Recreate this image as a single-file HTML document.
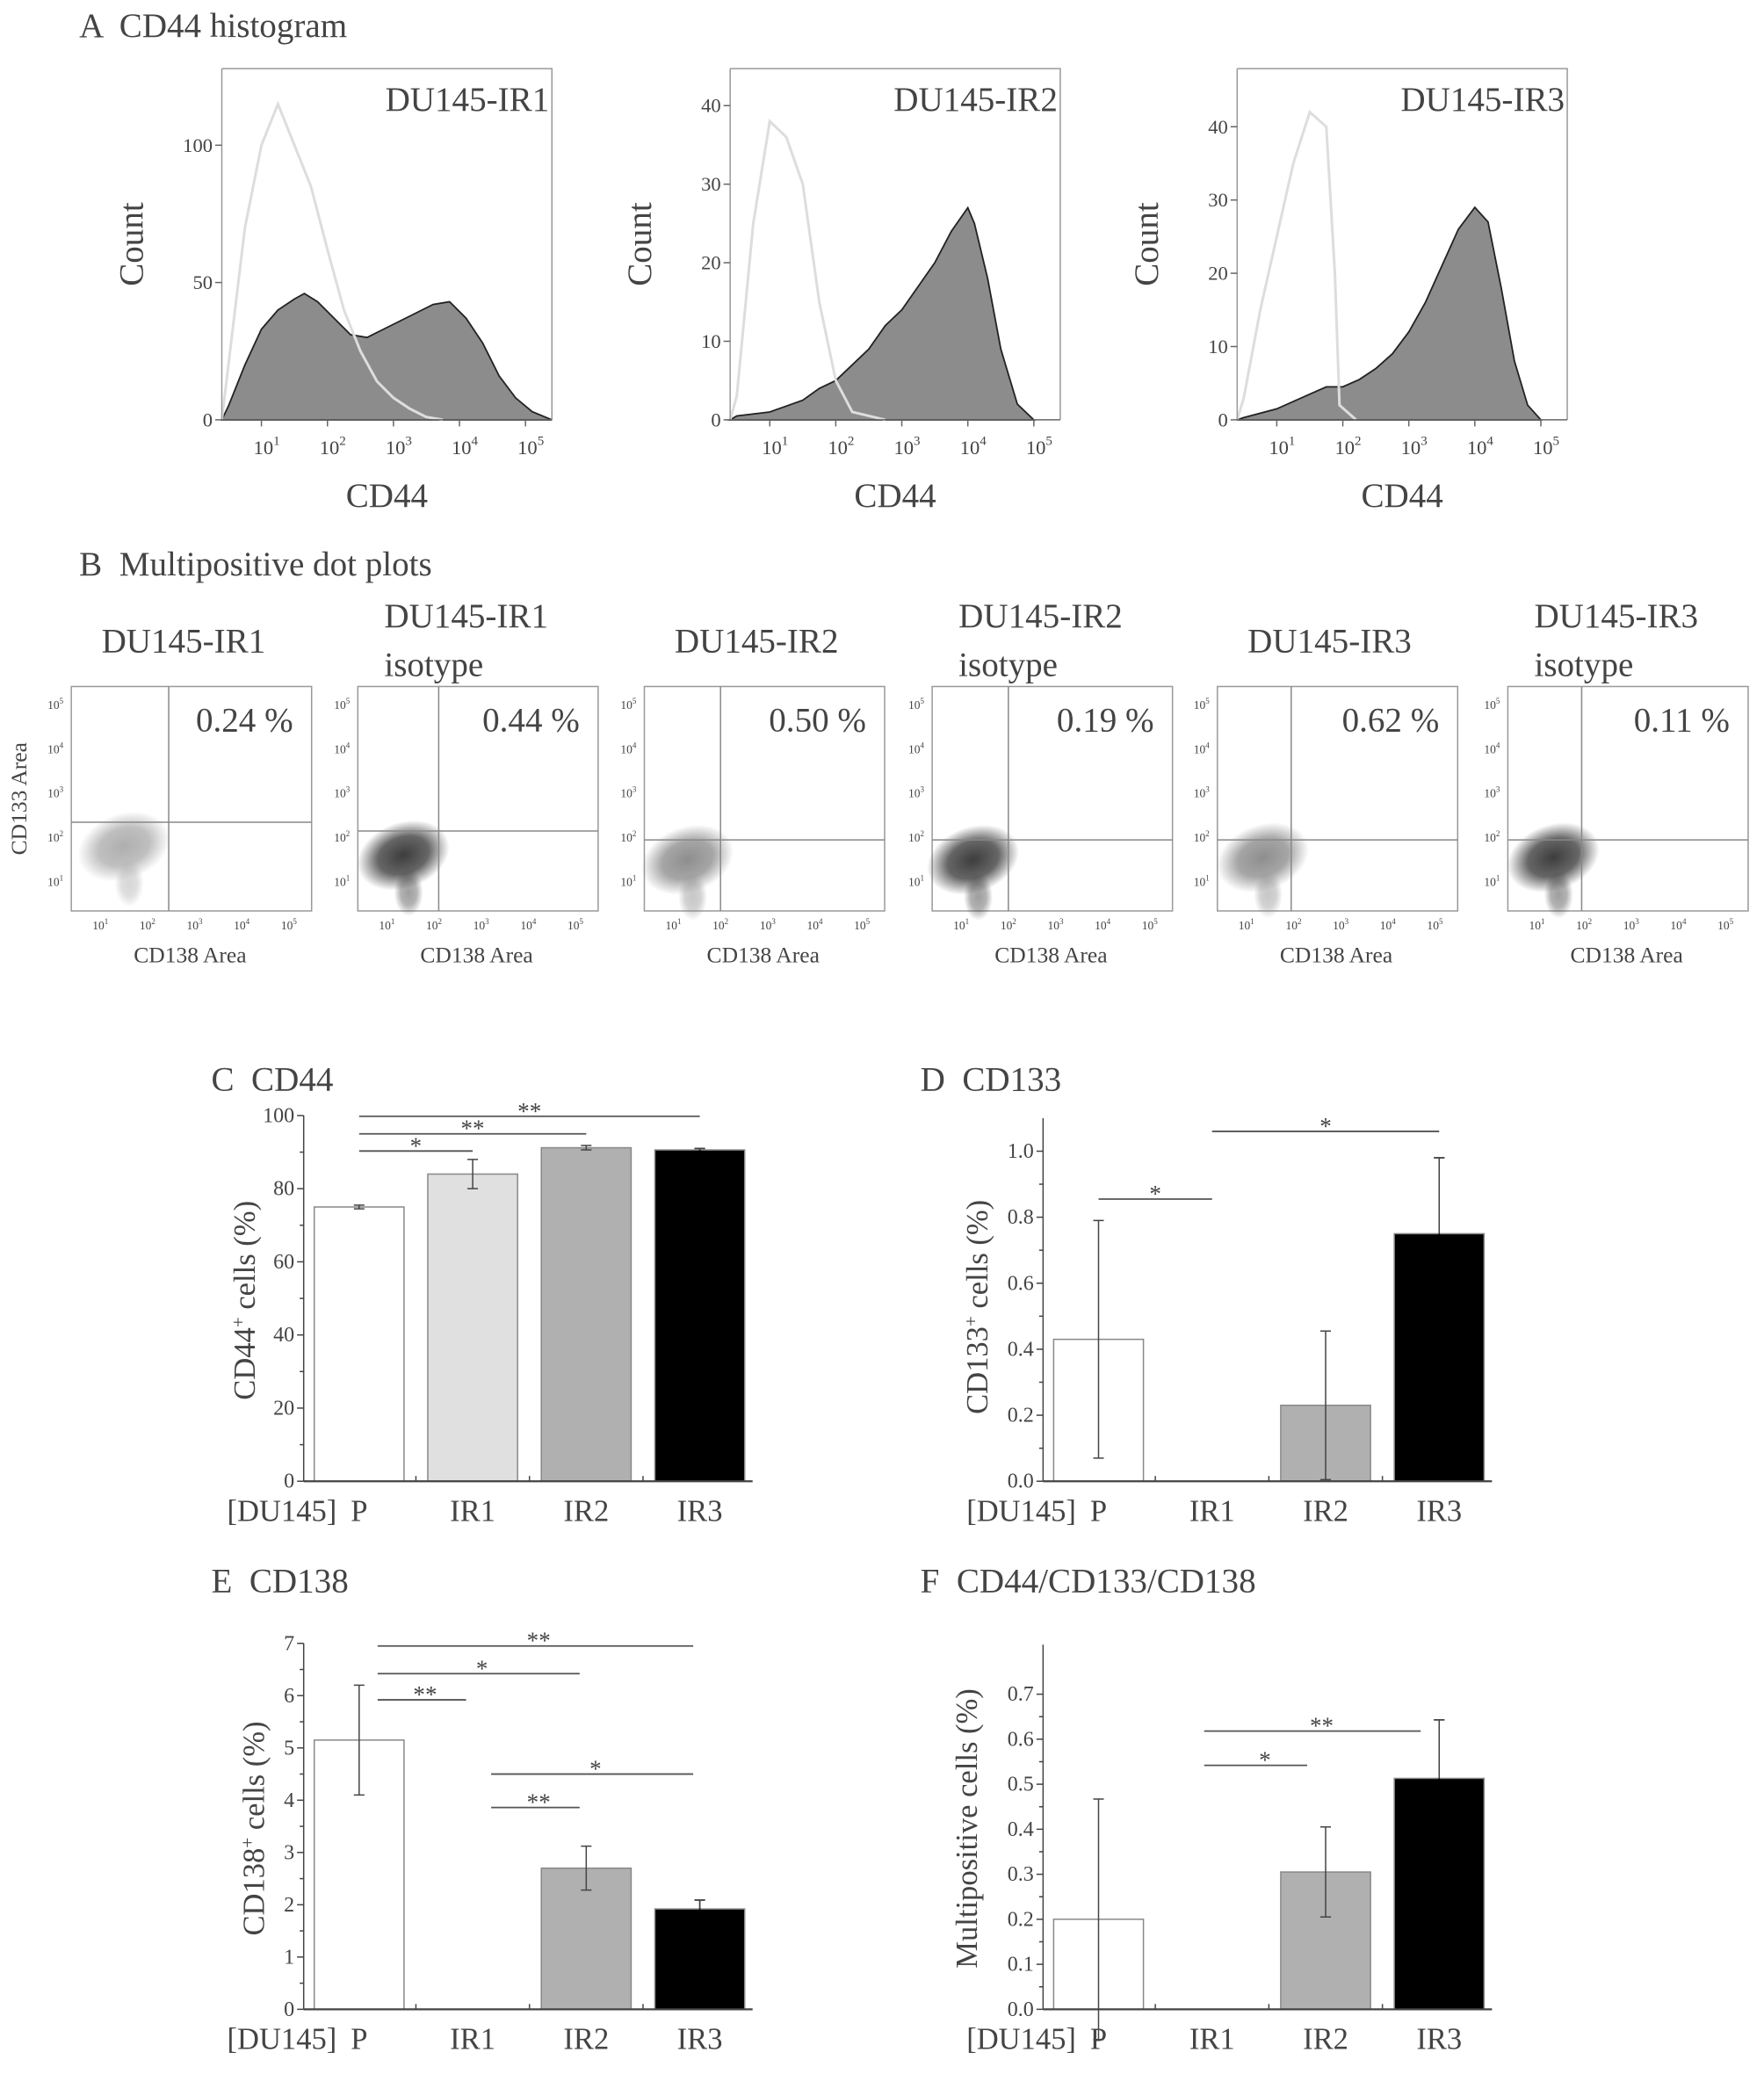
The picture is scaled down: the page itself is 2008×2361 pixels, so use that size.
<!DOCTYPE html>
<html><head><meta charset="utf-8"><style>
html,body{margin:0;padding:0;background:#fff}
svg{display:block}
text{font-family:"Liberation Serif",serif;fill:#444;white-space:pre}
</style></head><body>
<svg id="fig" width="2008" height="2361" viewBox="0 0 1336 1571" preserveAspectRatio="none" xmlns="http://www.w3.org/2000/svg" font-family="Liberation Serif, serif" xml:space="preserve">
<text x="60" y="28" font-size="26">A  CD44 histogram</text>
<text x="60" y="436" font-size="26">B  Multipositive dot plots</text>
<text x="160" y="826" font-size="26">C  CD44</text>
<text x="697" y="826" font-size="26">D  CD133</text>
<text x="160" y="1206" font-size="26">E  CD138</text>
<text x="697" y="1206" font-size="26">F  CD44/CD133/CD138</text>
<g id="root"></g>
</svg>
<script>
// ---------- Histogram data (log10 CD44 positions, counts) ----------
const histLogX1 = [0.4,0.5,0.75,1,1.25,1.5,1.65,1.85,2.1,2.35,2.6,2.85,3.1,3.35,3.6,3.85,4.1,4.35,4.6,4.85,5.1,5.4];
const histFill1 = [0,5,20,33,40,44,46,43,37,31,30,33,36,39,42,43,37,28,16,8,3,0];
const isoLogX1 = [0.4,0.5,0.75,1,1.25,1.5,1.75,2,2.25,2.5,2.75,3,3.25,3.5,3.75];
const isoVal1 = [0,20,70,100,115,100,85,62,40,25,14,8,4,1,0];
const histLogX2 = [0.4,0.5,1,1.5,1.75,2,2.25,2.5,2.75,3,3.25,3.5,3.75,4,4.1,4.3,4.5,4.75,5];
const histFill2 = [0,0.5,1,2.5,4,5,7,9,12,14,17,20,24,27,25,18,9,2,0];
const isoLogX2 = [0.4,0.5,0.75,1,1.25,1.5,1.75,2,2.25,2.5,2.75];
const isoVal2 = [0,3,25,38,36,30,15,5,1,0.5,0];
const histLogX3 = [0.4,0.5,1,1.5,1.75,2,2.25,2.5,2.75,3,3.25,3.5,3.75,4,4.2,4.4,4.6,4.8,5];
const histFill3 = [0,0.3,1.5,3.5,4.5,4.5,5.5,7,9,12,16,21,26,29,27,18,8,2,0];
const isoLogX3 = [0.4,0.5,0.75,1,1.25,1.5,1.75,1.88,1.95,2.2];
const isoVal3 = [0,3,15,25,35,42,40,20,2,0];
const histTitles = ["DU145-IR1","DU145-IR2","DU145-IR3"];
const histYTicks1 = [0,50,100];
const histYTicks2 = [0,10,20,30,40];
const histYTicks3 = [0,10,20,30,40];
const histXTicks = [1,2,3,4,5];

// ---------- Dot plot data ----------
const dotTitles = [["DU145-IR1"],["DU145-IR1","isotype"],["DU145-IR2"],["DU145-IR2","isotype"],["DU145-IR3"],["DU145-IR3","isotype"]];
const dotPercents = ["0.24 %","0.44 %","0.50 %","0.19 %","0.62 %","0.11 %"];
const gateLogX = [2.45,2.1,2.0,2.0,1.95,1.95];
const gateLogY = [2.35,2.15,1.95,1.95,1.95,1.95];
const cloudLogX = [1.5,1.35,1.3,1.25,1.35,1.35];
const cloudLogY = [1.8,1.6,1.5,1.5,1.55,1.55];
const cloudShade = ["#aaa","#333","#888","#333","#888","#333"];

// ---------- Bar chart data ----------
const barCats = ["P","IR1","IR2","IR3"];
const cd44Vals = [75,84,91.2,90.6];
const cd44Err = [0.5,4,0.6,0.4];
const cd44Ticks = [0,20,40,60,80,100];
const cd133Vals = [0.43,0,0.23,0.75];
const cd133Err = [0.36,0,0.225,0.23];
const cd133Ticks = [0,0.2,0.4,0.6,0.8,1.0];
const cd138Vals = [5.15,0,2.7,1.92];
const cd138Err = [1.05,0,0.42,0.17];
const cd138Ticks = [0,1,2,3,4,5,6,7];
const multiVals = [0.2,0,0.305,0.513];
const multiErr = [0.267,0,0.1,0.13];
const multiTicks = [0,0.1,0.2,0.3,0.4,0.5,0.6,0.7];
const sigC = [[0,1,90.3,"*"],[0,2,95,"**"],[0,3,99.8,"**"]];
const sigD = [[0,1,0.855,"*"],[1,3,1.06,"*"]];
const sigE = [[0,3,6.95,"**"],[0,2,6.42,"*"],[0,1,5.92,"**"],[1,3,4.5,"*"],[1,2,3.86,"**"]];
const sigF = [[1,3,0.618,"**"],[1,2,0.542,"*"]];

const NS="http://www.w3.org/2000/svg";
const root=document.getElementById('root');
function mk(tag,attrs,parent,txt){const e=document.createElementNS(NS,tag);for(const k in attrs)e.setAttribute(k,attrs[k]);if(tag==='text')e.setAttribute('font-family','Liberation Serif, serif');if(txt!==undefined)e.textContent=txt;(parent||root).appendChild(e);return e;}

// ---------- Histograms ----------
const histLefts=[168,553,937];
const histYScale=[208/100,59.5/10,55.5/10];
const hX=[histLogX1,histLogX2,histLogX3],hF=[histFill1,histFill2,histFill3],iX=[isoLogX1,isoLogX2,isoLogX3],iV=[isoVal1,isoVal2,isoVal3];
const hT=[histYTicks1,histYTicks2,histYTicks3];
for(let p=0;p<3;p++){
  const L=histLefts[p],B=318,T=52,R=L+250;
  const g=mk('g',{});
  
  
  const xs=v=>L+(v-0.4)*50, ys=v=>B-v*histYScale[p];
  let d='M'+xs(hX[p][0])+','+B;
  hX[p].forEach((v,i)=>{d+=' L'+xs(v)+','+ys(hF[p][i]);});
  d+=' L'+xs(hX[p][hX[p].length-1])+','+B+'Z';
  const f=mk('path',{d:d,fill:'#8c8c8c',stroke:'#222','stroke-width':1.2},g);
  
  
  let d2='';
  iX[p].forEach((v,i)=>{d2+=(i?' L':'M')+xs(v)+','+ys(iV[p][i]);});
  const iso=mk('path',{d:d2,fill:'none',stroke:'#ddd','stroke-width':2},g);
  
  
  const fr=mk('path',{d:`M${L},${T} H${R} V${B} M${L},${T} V${B}`,fill:'none',stroke:'#999','stroke-width':1},g);
  
  
  mk('line',{x1:L,y1:B,x2:R,y2:B,stroke:'#666','stroke-width':1},g);
  hT[p].forEach(t=>{mk('line',{x1:L-5,x2:L,y1:ys(t),y2:ys(t),stroke:'#666'},g);const tl=mk('text',{x:L-7,y:ys(t)+5,'font-size':15,'text-anchor':'end'},g,String(t));});
  histXTicks.forEach(t=>{const x=xs(t);mk('line',{x1:x,x2:x,y1:B,y2:B+5,stroke:'#666'},g);const tl=mk('text',{x:x-6,y:B+26,'font-size':15},g,'10');mk('tspan',{dy:-7,'font-size':10},tl,String(t));});
  const tt=mk('text',{x:R-2,y:84,'font-size':26,'text-anchor':'end'},g,histTitles[p]);
  
  
  const yl=mk('text',{x:0,y:0,'font-size':26,'text-anchor':'middle',transform:`translate(${L-60},185) rotate(-90)`},g,'Count');
  
  
  const xl=mk('text',{x:L+125,y:384,'font-size':26,'text-anchor':'middle'},g,'CD44');
  
  
}

// ---------- Dot plots ----------
const defs=mk('defs',{});
cloudShade.forEach((c,i)=>{const rg=mk('radialGradient',{id:'cg'+i},defs);mk('stop',{offset:'0%','stop-color':c,'stop-opacity':0.95},rg);mk('stop',{offset:'55%','stop-color':c,'stop-opacity':0.75},rg);mk('stop',{offset:'100%','stop-color':c,'stop-opacity':0},rg);});
const dotLefts=[54,271,488,706,922,1142];
for(let p=0;p<6;p++){
  const L=dotLefts[p],W=182,T=520,B=690;
  const g=mk('g',{});
  
  
  const xs=v=>L+22+(v-1)*35.7, ys=v=>668-(v-1)*33.5;
  mk('rect',{x:L,y:T,width:W,height:B-T,fill:'#fff',stroke:'#999','stroke-width':1},g);
  const cl=mk('ellipse',{cx:xs(cloudLogX[p]),cy:ys(cloudLogY[p]),rx:36,ry:25,fill:`url(#cg${p})`,transform:`rotate(-20 ${xs(cloudLogX[p])} ${ys(cloudLogY[p])})`},g);
  
  
  mk('ellipse',{cx:xs(cloudLogX[p])+4,cy:ys(cloudLogY[p])+28,rx:11,ry:18,fill:`url(#cg${p})`,opacity:0.5},g);
  const vl=mk('line',{x1:xs(gateLogX[p]),x2:xs(gateLogX[p]),y1:T,y2:B,stroke:'#888','stroke-width':1},g);
  
  
  const hl=mk('line',{x1:L,x2:L+W,y1:ys(gateLogY[p]),y2:ys(gateLogY[p]),stroke:'#888','stroke-width':1},g);
  
  
  [1,2,3,4,5].forEach(t=>{
    const a=mk('text',{x:L-18,y:ys(t)+3,'font-size':9},g,'10');mk('tspan',{dy:-4,'font-size':6},a,String(t));
    const b=mk('text',{x:xs(t)-6,y:B+14,'font-size':9},g,'10');mk('tspan',{dy:-4,'font-size':6},b,String(t));
  });
  const pc=mk('text',{x:L+W-14,y:554,'font-size':26,'text-anchor':'end'},g,dotPercents[p]);
  
  
  const tl=dotTitles[p];
  tl.forEach((s,i)=>{const t=mk('text',{x:tl.length>1?L+20:L+W/2-6,y:tl.length>1?475+i*37:494,'font-size':26,'text-anchor':tl.length>1?'start':'middle'},g,s);});
  const xl=mk('text',{x:L+90,y:729,'font-size':17,'text-anchor':'middle'},g,'CD138 Area');
  
  
  if(p===0){const yl=mk('text',{x:0,y:0,'font-size':17,'text-anchor':'middle',transform:'translate(20,605) rotate(-90)'},g,'CD133 Area');}
}

// ---------- Bar charts ----------
const barFills=['#fff','#e0e0e0','#b0b0b0','#000'];
function barChart(cfg){
  const g=mk('g',{});
  
  
  const L=cfg.left,B=cfg.bottom,ys=v=>B-(v-0)*cfg.ppu;
  const centers=barCats.map((c,i)=>L+42+i*86);
  const xs=i=>centers[i];
  cfg.vals.forEach((v,i)=>{
    if(v>0){const r=mk('rect',{x:xs(i)-34,y:ys(v),width:68,height:B-ys(v),fill:barFills[i],stroke:'#888','stroke-width':1},g);
    
    }
    const e=cfg.err[i];
    if(e>0){const c=i===3?'#000':'#444';const eb=mk('path',{d:`M${xs(i)},${ys(v-e)} V${ys(v+e)} M${xs(i)-4},${ys(v+e)} H${xs(i)+4} M${xs(i)-4},${ys(v-e)} H${xs(i)+4}`,stroke:c,'stroke-width':1,fill:'none'},g);
    if(i===3)mk('path',{d:`M${xs(i)},${ys(v)} V${ys(v+e)} M${xs(i)-4},${ys(v+e)} H${xs(i)+4}`,stroke:'#444','stroke-width':1,fill:'none'},g);
    
    }
  });
  const top=ys(cfg.axisTop);
  mk('line',{x1:L,x2:L,y1:top,y2:B,stroke:'#444','stroke-width':1},g);
  mk('line',{x1:L,x2:L+340,y1:B,y2:B,stroke:'#444','stroke-width':1.5},g);
  cfg.ticks.forEach((t,k)=>{
    mk('line',{x1:L-5,x2:L,y1:ys(t),y2:ys(t),stroke:'#444'},g);
    if(k<cfg.ticks.length-1){const m=(t+cfg.ticks[k+1])/2;mk('line',{x1:L-3,x2:L,y1:ys(m),y2:ys(m),stroke:'#444'},g);}
    const tl=mk('text',{x:L-7,y:ys(t)+5,'font-size':16,'text-anchor':'end'},g,cfg.fmt(t));
    
    
  });
  [1,2,3].forEach(i=>mk('line',{x1:(xs(i-1)+xs(i))/2,x2:(xs(i-1)+xs(i))/2,y1:B,y2:B-4,stroke:'#444'},g));
  const pre=mk('text',{x:L-58,y:B+30,'font-size':23},g,'[DU145]');
  
  
  barCats.forEach((c,i)=>{const t=mk('text',{x:xs(i),y:B+30,'font-size':23,'text-anchor':'middle'},g,c);});
  cfg.sig.forEach(s=>{
    const y=ys(s[2]);
    const sl=mk('line',{x1:xs(s[0])+cfg.sigOff0,x2:xs(s[1])+cfg.sigOff1,y1:y,y2:y,stroke:'#555','stroke-width':1.2},g);
    
    
    const st=mk('text',{x:(xs(s[0])+xs(s[1]))/2+cfg.sigOff0/2,y:y+2,'font-size':18,'text-anchor':'middle'},g,s[3]);
    
    
  });
  const yt=mk('text',{x:0,y:0,'font-size':23,'text-anchor':'middle',transform:`translate(${cfg.ytx},${cfg.yty}) rotate(-90)`},g);
  
  
  yt.appendChild(document.createTextNode(cfg.yt[0]));
  if(cfg.yt[1]){mk('tspan',{dy:-8,'font-size':14},yt,cfg.yt[1]);mk('tspan',{dy:8},yt,cfg.yt[2]);}
}
barChart({name:'cd44-bar-chart',left:230,bottom:1122,ppu:2.77,axisTop:100,ticks:cd44Ticks,vals:cd44Vals,err:cd44Err,sig:sigC,fmt:t=>String(t),ytx:193,yty:985,yt:['CD44','+',' cells (%)'],sigOff0:0,sigOff1:0});
barChart({name:'cd133-bar-chart',left:790,bottom:1122,ppu:250,axisTop:1.1,ticks:cd133Ticks,vals:cd133Vals,err:cd133Err,sig:sigD,fmt:t=>t.toFixed(1),ytx:748,yty:990,yt:['CD133','+',' cells (%)'],sigOff0:0,sigOff1:0});
barChart({name:'cd138-bar-chart',left:230,bottom:1522,ppu:39.6,axisTop:7,ticks:cd138Ticks,vals:cd138Vals,err:cd138Err,sig:sigE,fmt:t=>String(t),ytx:200,yty:1385,yt:['CD138','+',' cells (%)'],sigOff0:14,sigOff1:-5});
barChart({name:'multipositive-bar-chart',left:790,bottom:1522,ppu:341,axisTop:0.81,ticks:multiTicks,vals:multiVals,err:multiErr,sig:sigF,fmt:t=>t.toFixed(1),ytx:740,yty:1385,yt:['Multipositive cells (%)'],sigOff0:-6,sigOff1:-14});
</script>
</body></html>
